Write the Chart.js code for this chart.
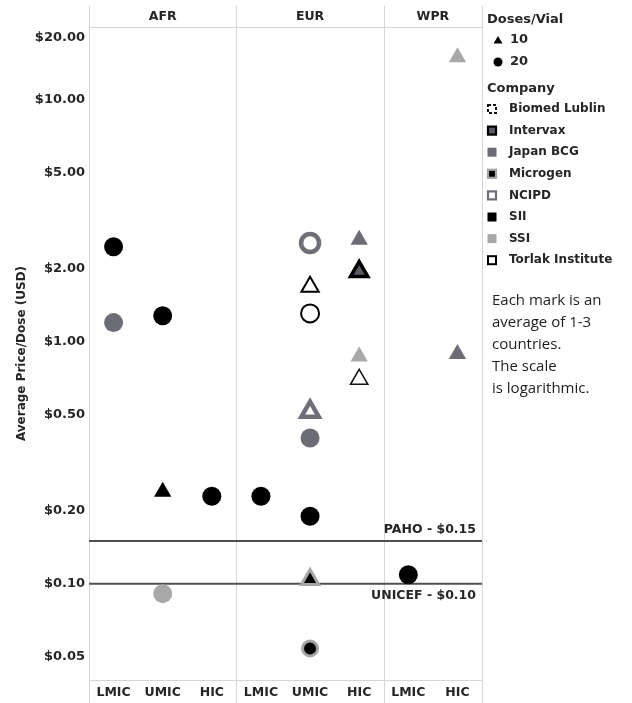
<!DOCTYPE html>
<html>
<head>
<meta charset="utf-8">
<title>BCG price per dose</title>
<script src="https://cdn.jsdelivr.net/npm/chart.js@4.4.0/dist/chart.umd.min.js"></script>
<style>
  html, body { margin: 0; padding: 0; background: #fff; }
  #wrap { position: relative; width: 632px; height: 703px; }
</style>
</head>
<body>
<div id="wrap"><canvas id="chart" width="632" height="703"></canvas></div>
<script>
/* ── Data ─────────────────────────────────────────── */
const incomeLabels = ['LMIC', 'UMIC', 'HIC', 'LMIC', 'UMIC', 'HIC', 'LMIC', 'HIC'];
const regions      = ['AFR', 'EUR', 'WPR'];
const regionSpans  = [3, 3, 2];
const priceTicks   = [0.05, 0.1, 0.2, 0.5, 1, 2, 5, 10, 20];
const refValues    = [0.15, 0.10];
const refLabels    = ['PAHO - $0.15', 'UNICEF - $0.10'];
const companies    = ['Biomed Lublin', 'Intervax', 'Japan BCG', 'Microgen', 'NCIPD', 'SII', 'SSI', 'Torlak Institute'];
const doseSizes    = [10, 20];
const notes        = ['Each mark is an', 'average of 1-3', 'countries.', 'The scale', 'is logarithmic.'];

// one entry per mark: column (index into incomeLabels), company, doses/vial, price
const markColumn  = [0, 0, 1, 1, 1, 2,
                     3, 4, 4, 4, 4, 4, 4, 4, 4,
                     5, 5, 5, 5,
                     6, 7, 7];
const markCompany = ['SII', 'Japan BCG', 'SII', 'SII', 'SSI', 'SII',
                     'SII', 'NCIPD', 'Torlak Institute', 'Torlak Institute', 'NCIPD', 'Japan BCG', 'SII', 'Microgen', 'Microgen',
                     'Japan BCG', 'Intervax', 'SSI', 'Biomed Lublin',
                     'SII', 'SSI', 'Japan BCG'];
const markDoses   = [20, 20, 20, 10, 20, 20,
                     20, 20, 10, 20, 10, 20, 20, 10, 20,
                     10, 10, 10, 10,
                     20, 10, 10];
const markPrice   = [2.47, 1.20, 1.28, 0.24, 0.091, 0.23,
                     0.23, 2.56, 1.69, 1.31, 0.514, 0.40, 0.19, 0.104, 0.054,
                     2.64, 1.95, 0.87, 0.70,
                     0.109, 15, 0.89];

/* ── Styles ───────────────────────────────────────── */
const FONT = '"DejaVu Sans", sans-serif';
const TEXT = '#262626';
const FRAME = '#d6d6d6';

const companyStyle = {
  'Biomed Lublin':    { fill: '#ffffff', line: '#111111', width: 1.5, r: 9,   dash: true },
  'Intervax':         { fill: '#5b5b64', line: '#000000', width: 3.5, r: 9 },
  'Japan BCG':        { fill: '#6c6c77', line: '#6c6c77', width: 0,   r: 9.5 },
  'Microgen':         { fill: '#000000', line: '#a6a6a6', width: 3,   r: 7.5 },
  'NCIPD':            { fill: '#ffffff', line: '#6f6f78', width: 4.5, r: 9 },
  'SII':              { fill: '#000000', line: '#000000', width: 0,   r: 9.5 },
  'SSI':              { fill: '#a8a8a8', line: '#a8a8a8', width: 0,   r: 9.5 },
  'Torlak Institute': { fill: '#ffffff', line: '#000000', width: 2,   r: 9 }
};

/* ── Datasets (company × doses/vial) ──────────────── */
const datasets = [];
companies.forEach(company => {
  doseSizes.forEach(dose => {
    const pts = [];
    markPrice.forEach((p, i) => {
      if (markCompany[i] === company && markDoses[i] === dose) pts.push({ x: markColumn[i], y: p });
    });
    if (!pts.length) return;
    const st = companyStyle[company];
    const tri = dose === 10;
    datasets.push({
      label: company + ' · ' + dose,
      data: pts,
      showLine: false,
      pointStyle: tri ? 'triangle' : 'circle',
      pointRadius: tri ? 10 : st.r,
      pointHoverRadius: tri ? 10 : st.r,
      pointBackgroundColor: st.fill,
      pointBorderColor: st.line,
      pointBorderWidth: st.width,
      pointHoverBorderWidth: st.width
    });
  });
});

/* ── Frame, headers, reference lines, legend ─────── */
function swatch(ctx, company, cx, cy) {
  const st = companyStyle[company];
  const s = 9;
  ctx.save();
  ctx.fillStyle = st.fill;
  ctx.fillRect(cx - s / 2, cy - s / 2, s, s);
  if (st.width > 0) {
    ctx.strokeStyle = st.line;
    ctx.lineWidth = Math.min(st.width, 2.2);
    if (st.dash) { ctx.setLineDash([3, 2]); ctx.lineWidth = 2; }
    ctx.strokeRect(cx - s / 2 + 0.5, cy - s / 2 + 0.5, s - 1, s - 1);
  }
  ctx.restore();
}

const panelPlugin = {
  id: 'panels',
  beforeDatasetsDraw(chart) {
    const { ctx, chartArea: a, scales: { x, y } } = chart;
    ctx.save();
    // frame lines
    ctx.strokeStyle = FRAME;
    ctx.lineWidth = 1;
    const bounds = [-0.5];
    let acc = -0.5;
    regionSpans.forEach(n => { acc += n; bounds.push(acc); });
    bounds.forEach(b => {
      const px = Math.round(x.getPixelForValue(b)) + 0.5;
      ctx.beginPath(); ctx.moveTo(px, 6); ctx.lineTo(px, chart.height); ctx.stroke();
    });
    [a.top, a.bottom].forEach(py => {
      ctx.beginPath();
      ctx.moveTo(a.left, Math.round(py) + 0.5);
      ctx.lineTo(a.right, Math.round(py) + 0.5);
      ctx.stroke();
    });
    // region headers
    ctx.fillStyle = TEXT;
    ctx.font = 'bold 12.5px ' + FONT;
    ctx.textAlign = 'center';
    ctx.textBaseline = 'middle';
    regions.forEach((r, i) => {
      const mid = (x.getPixelForValue(bounds[i]) + x.getPixelForValue(bounds[i + 1])) / 2;
      ctx.fillText(r, mid, 17);
    });
    // reference lines
    ctx.strokeStyle = '#505050';
    ctx.lineWidth = 2;
    ctx.font = 'bold 12.5px ' + FONT;
    ctx.textAlign = 'right';
    refValues.forEach((v, i) => {
      const py = y.getPixelForValue(v);
      ctx.beginPath(); ctx.moveTo(a.left, py); ctx.lineTo(a.right, py); ctx.stroke();
      ctx.fillText(refLabels[i], a.right - 6, i === 0 ? py - 11 : py + 12);
    });
    ctx.restore();
  },
  afterDraw(chart) {
    const { ctx } = chart;
    ctx.save();
    ctx.fillStyle = TEXT;
    ctx.textAlign = 'left';
    ctx.textBaseline = 'middle';
    // doses / vial
    ctx.font = 'bold 13px ' + FONT;
    ctx.fillText('Doses/Vial', 487, 20);
    ctx.fillStyle = '#000';
    ctx.beginPath();
    ctx.moveTo(498, 36); ctx.lineTo(502.5, 43.5); ctx.lineTo(493.5, 43.5); ctx.closePath(); ctx.fill();
    ctx.beginPath(); ctx.arc(498, 62, 4.5, 0, Math.PI * 2); ctx.fill();
    ctx.fillStyle = TEXT;
    ctx.fillText(String(doseSizes[0]), 510, 40);
    ctx.fillText(String(doseSizes[1]), 510, 62);
    // company
    ctx.fillText('Company', 487, 89);
    ctx.font = 'bold 12px ' + FONT;
    companies.forEach((c, i) => {
      const cy = 109 + i * 21.6;
      swatch(ctx, c, 492, cy);
      ctx.fillStyle = TEXT;
      ctx.fillText(c, 509, cy);
    });
    // notes
    ctx.font = '15px "Open Sans", sans-serif';
    ctx.fillStyle = '#1e1e1e';
    notes.forEach((t, i) => ctx.fillText(t, 492, 301 + i * 22));
    ctx.restore();
  }
};

/* ── Chart ────────────────────────────────────────── */
new Chart(document.getElementById('chart'), {
  type: 'scatter',
  data: { datasets },
  plugins: [panelPlugin],
  options: {
    responsive: false,
    animation: false,
    layout: { padding: { top: 27, right: 150, bottom: 0, left: 0 } },
    plugins: { legend: { display: false }, tooltip: { enabled: false } },
    scales: {
      x: {
        type: 'linear',
        min: -0.5,
        max: incomeLabels.length - 0.5,
        grid: { display: false, drawTicks: false },
        border: { display: false },
        afterBuildTicks: s => { s.ticks = incomeLabels.map((_, i) => ({ value: i })); },
        afterFit: s => { s.height = 23; },
        ticks: {
          autoSkip: false, maxRotation: 0, padding: 5,
          color: TEXT, font: { family: FONT, size: 12.5, weight: 'bold' },
          callback: v => incomeLabels[v]
        }
      },
      y: {
        type: 'logarithmic',
        min: 0.04,
        max: 20,
        grid: { display: false, drawTicks: false },
        border: { display: false },
        afterBuildTicks: s => { s.ticks = priceTicks.map(v => ({ value: v })); },
        afterFit: s => { s.width = 89; },
        ticks: {
          padding: 4,
          color: TEXT, font: { family: FONT, size: 13, weight: 'bold', lineHeight: 1.6 },
          callback: v => v === 20 ? ['', '$20.00'] : '$' + Number(v).toFixed(2)
        },
        title: {
          display: true,
          text: 'Average Price/Dose (USD)',
          color: TEXT,
          font: { family: FONT, size: 12, weight: 'bold' },
          padding: { top: 15, bottom: 0 }
        }
      }
    }
  }
});
</script>
</body>
</html>
